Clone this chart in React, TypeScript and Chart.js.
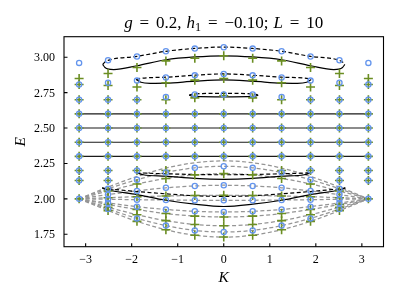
import React, { useEffect, useRef } from 'react';
import { Chart, registerables } from 'chart.js';

Chart.register(...registerables);

// K columns (2πn/L, L = 10)
const kColumns = [-3.1416, -2.5133, -1.885, -1.2566, -0.6283, 0, 0.6283, 1.2566, 1.885, 2.5133, 3.1416];

// Blue circles, listed by |K| index (0 → K = 0, 5 → K = ±π)
const blueByAbsK = [
  [3.07, 2.882, 2.737, 2.6, 2.5, 2.4, 2.3, 2.23, 2.096, 1.99, 1.907, 1.766],
  [3.061, 2.872, 2.737, 2.6, 2.5, 2.4, 2.3, 2.219, 2.091, 1.99, 1.912, 1.777],
  [3.042, 2.857, 2.72, 2.6, 2.5, 2.4, 2.3, 2.186, 2.078, 1.992, 1.925, 1.811],
  [3.005, 2.835, 2.7, 2.6, 2.5, 2.4, 2.3, 2.2, 2.135, 2.056, 1.994, 1.945, 1.862],
  [2.979, 2.82, 2.7, 2.6, 2.5, 2.4, 2.3, 2.2, 2.13, 2.071, 2.03, 1.997, 1.971, 1.928],
  [2.96, 2.807, 2.7, 2.6, 2.5, 2.4, 2.3, 2.2, 2.13, 2.0],
];

// Green pluses, listed by |K| index
const greenByAbsK = [
  [3.01, 2.85, 2.727, 2.6, 2.5, 2.4, 2.3, 2.178, 2.025, 1.872, 1.81, 1.73],
  [2.993, 2.838, 2.713, 2.6, 2.5, 2.4, 2.3, 2.169, 2.024, 1.878, 1.819, 1.743],
  [2.974, 2.82, 2.7, 2.6, 2.5, 2.4, 2.3, 2.2, 2.144, 2.02, 1.896, 1.846, 1.782],
  [2.927, 2.79, 2.7, 2.6, 2.5, 2.4, 2.3, 2.2, 2.105, 2.015, 1.925, 1.888, 1.841],
  [2.885, 2.8, 2.7, 2.6, 2.5, 2.4, 2.3, 2.2, 2.13, 2.055, 2.008, 1.96, 1.941, 1.917],
  [2.85, 2.807, 2.7, 2.6, 2.5, 2.4, 2.3, 2.2, 2.13, 2.0],
];

// Gray dashed continuum curves, values at kColumns
const grayCurves = [
  [2.0, 2.083, 2.158, 2.217, 2.255, 2.268, 2.255, 2.217, 2.158, 2.083, 2.0],
  [2.0, 2.071, 2.135, 2.186, 2.219, 2.23, 2.219, 2.186, 2.135, 2.071, 2.0],
  [2.0, 2.055, 2.105, 2.144, 2.169, 2.178, 2.169, 2.144, 2.105, 2.055, 2.0],
  [2.0, 2.03, 2.056, 2.078, 2.091, 2.096, 2.091, 2.078, 2.056, 2.03, 2.0],
  [2.0, 2.008, 2.015, 2.02, 2.024, 2.025, 2.024, 2.02, 2.015, 2.008, 2.0],
  [2.0, 1.997, 1.994, 1.992, 1.99, 1.99, 1.99, 1.992, 1.994, 1.997, 2.0],
  [2.0, 1.971, 1.945, 1.925, 1.912, 1.907, 1.912, 1.925, 1.945, 1.971, 2.0],
  [2.0, 1.96, 1.925, 1.896, 1.878, 1.872, 1.878, 1.896, 1.925, 1.96, 2.0],
  [2.0, 1.941, 1.888, 1.846, 1.819, 1.81, 1.819, 1.846, 1.888, 1.941, 2.0],
  [2.0, 1.928, 1.862, 1.811, 1.777, 1.766, 1.777, 1.811, 1.862, 1.928, 2.0],
  [2.0, 1.917, 1.841, 1.782, 1.743, 1.73, 1.743, 1.782, 1.841, 1.917, 2.0],
];

// Flat solid levels
const flatLevels = [2.6, 2.5, 2.4, 2.3];
const flatK = [-3.1416, 3.1416];

// Black bound-state branches (dashed = upper, solid = lower)
const aUpperK = [-2.63, -2.58, -2.5133, -1.885, -1.2566, -0.6283, 0, 0.6283, 1.2566, 1.885, 2.5133, 2.58, 2.63];
const aUpperE = [2.949, 2.966, 2.978, 3.006, 3.042, 3.062, 3.072, 3.062, 3.042, 3.006, 2.978, 2.966, 2.949];
const aLowerK = [-2.63, -2.58, -2.5, -2.39, -1.885, -1.2566, -0.6283, 0, 0.6283, 1.2566, 1.885, 2.39, 2.5, 2.58, 2.63];
const aLowerE = [2.949, 2.928, 2.916, 2.913, 2.94, 2.982, 3.002, 3.01, 3.002, 2.982, 2.94, 2.913, 2.916, 2.928, 2.949];

const bUpperK = [-1.9, -1.84, -1.2566, -0.6283, 0, 0.6283, 1.2566, 1.84, 1.9];
const bUpperE = [2.842, 2.849, 2.859, 2.873, 2.882, 2.873, 2.859, 2.849, 2.842];
const bLowerK = [-1.9, -1.8, -1.6, -1.2566, -0.6283, 0, 0.6283, 1.2566, 1.6, 1.8, 1.9];
const bLowerE = [2.842, 2.823, 2.816, 2.817, 2.831, 2.84, 2.831, 2.817, 2.816, 2.823, 2.842];

const cUpperK = [-0.75, -0.7, -0.6283, 0, 0.6283, 0.7, 0.75];
const cUpperE = [2.732, 2.738, 2.741, 2.745, 2.741, 2.738, 2.732];
const cLowerK = [-0.75, -0.7, -0.6283, 0, 0.6283, 0.7, 0.75];
const cLowerE = [2.732, 2.726, 2.723, 2.72, 2.723, 2.726, 2.732];

const dUpperK = [-1.9, -1.8, -1.2566, -0.6283, 0, 0.6283, 1.2566, 1.8, 1.9];
const dUpperE = [2.185, 2.183, 2.177, 2.172, 2.17, 2.172, 2.177, 2.183, 2.185];
const dLowerK = [-1.9, -1.75, -1.2566, -0.6283, 0, 0.6283, 1.2566, 1.75, 1.9];
const dLowerE = [2.185, 2.17, 2.16, 2.144, 2.138, 2.144, 2.16, 2.17, 2.185];

const eUpperK = [-2.64, -2.5133, -1.885, -1.2566, -0.6283, 0, 0.6283, 1.2566, 1.885, 2.5133, 2.64];
const eUpperE = [2.077, 2.071, 2.052, 2.035, 2.022, 2.017, 2.022, 2.035, 2.052, 2.071, 2.077];
const eLowerK = [-2.64, -2.55, -1.885, -1.2566, -0.6283, 0, 0.6283, 1.2566, 1.885, 2.55, 2.64];
const eLowerE = [2.077, 2.066, 2.03, 1.99, 1.962, 1.946, 1.962, 1.99, 2.03, 2.066, 2.077];

// Axes
const xTicks = [-3, -2, -1, 0, 1, 2, 3];
const yTicks = [1.75, 2.0, 2.25, 2.5, 2.75, 3.0];
const xRange = [-3.47, 3.47];
const yRange = [1.662, 3.145];

const SERIF = '"Liberation Serif", "DejaVu Serif", serif';

const zip = (ks: number[], es: number[]) => ks.map((k, i) => ({ x: k, y: es[i] }));

function markerPoints(byAbsK: number[][]) {
  const pts: { x: number; y: number }[] = [];
  kColumns.forEach((k, c) => {
    const j = Math.abs(c - 5);
    byAbsK[j].forEach((e) => pts.push({ x: k, y: e }));
  });
  return pts;
}

const fmtX = (v: number) => (v < 0 ? '\u2212' + Math.abs(v) : String(v));

const decorPlugin = {
  id: 'decor',
  afterDatasetsDraw(chart: any) {
    const { ctx, chartArea: a, scales } = chart;
    const xs = scales.x;
    const ys = scales.y;
    ctx.save();
    ctx.strokeStyle = '#000';
    ctx.lineWidth = 1.1;
    ctx.strokeRect(a.left, a.top, a.right - a.left, a.bottom - a.top);
    ctx.beginPath();
    xTicks.forEach((v) => {
      const px = xs.getPixelForValue(v);
      ctx.moveTo(px, a.bottom);
      ctx.lineTo(px, a.bottom - 3.5);
    });
    yTicks.forEach((v) => {
      const py = ys.getPixelForValue(v);
      ctx.moveTo(a.left, py);
      ctx.lineTo(a.left + 3.5, py);
    });
    ctx.stroke();

    ctx.fillStyle = '#000';
    ctx.font = `12px ${SERIF}`;
    ctx.textAlign = 'center';
    ctx.textBaseline = 'alphabetic';
    xTicks.forEach((v) => {
      ctx.fillText(fmtX(v), xs.getPixelForValue(v), a.bottom + 16.5);
    });
    ctx.textAlign = 'right';
    yTicks.forEach((v) => {
      ctx.fillText(v.toFixed(2), a.left - 9, ys.getPixelForValue(v) + 4);
    });

    // axis labels
    ctx.font = `italic 15.5px ${SERIF}`;
    ctx.textAlign = 'center';
    ctx.fillText('K', (a.left + a.right) / 2, a.bottom + 35);
    ctx.save();
    ctx.translate(25, (a.top + a.bottom) / 2);
    ctx.rotate(-Math.PI / 2);
    ctx.fillText('E', 0, 0);
    ctx.restore();

    // title with math styling
    const size = 17;
    const segs: { t?: string; it?: boolean; sub?: boolean; gap?: number }[] = [
      { t: 'g', it: true }, { gap: 0.4 }, { t: '=' }, { gap: 0.4 }, { t: '0.2,' }, { gap: 0.3 },
      { t: 'h', it: true }, { t: '1', sub: true }, { gap: 0.4 }, { t: '=' }, { gap: 0.4 }, { t: '\u22120.10;' }, { gap: 0.3 },
      { t: 'L', it: true }, { gap: 0.4 }, { t: '=' }, { gap: 0.4 }, { t: '10' },
    ];
    const fontFor = (s: any) => `${s.it ? 'italic ' : ''}${s.sub ? size * 0.72 : size}px ${SERIF}`;
    let total = 0;
    segs.forEach((s) => {
      if (s.gap) total += s.gap * size;
      else { ctx.font = fontFor(s); total += ctx.measureText(s.t).width; }
    });
    let x = (a.left + a.right) / 2 - total / 2;
    const base = 28;
    ctx.textAlign = 'left';
    segs.forEach((s) => {
      if (s.gap) { x += s.gap * size; return; }
      ctx.font = fontFor(s);
      ctx.fillText(s.t, x, s.sub ? base + 3 : base);
      x += ctx.measureText(s.t).width;
    });
    ctx.restore();
  },
};

export default function App() {
  const ref = useRef<HTMLCanvasElement | null>(null);
  useEffect(() => {
    if (!ref.current) return;
    const dashed = [4, 2.5];
    const lineDs = (pts: any[], color: string, dash: number[], width: number, order: number) => ({
      type: 'line' as const,
      data: pts,
      showLine: true,
      borderColor: color,
      borderWidth: width,
      borderDash: dash,
      pointRadius: 0,
      fill: false,
      cubicInterpolationMode: 'monotone' as const,
      order,
    });
    const datasets: any[] = [
      {
        type: 'scatter',
        data: markerPoints(blueByAbsK),
        pointStyle: 'circle',
        pointRadius: 2.6,
        borderWidth: 1.3,
        borderColor: '#6495ED',
        backgroundColor: 'rgba(0,0,0,0)',
        order: 0,
      },
      {
        type: 'scatter',
        data: markerPoints(greenByAbsK),
        pointStyle: 'cross',
        pointRadius: 4.5,
        borderWidth: 1.6,
        borderColor: '#6B8E23',
        backgroundColor: '#6B8E23',
        order: 1,
      },
      ...flatLevels.map((e) => lineDs(flatK.map((k) => ({ x: k, y: e })), '#1a1a1a', [], 1.1, 2)),
      lineDs(zip(aUpperK, aUpperE), '#000', dashed, 1.2, 2),
      lineDs(zip(aLowerK, aLowerE), '#000', [], 1.2, 2),
      lineDs(zip(bUpperK, bUpperE), '#000', dashed, 1.2, 2),
      lineDs(zip(bLowerK, bLowerE), '#000', [], 1.2, 2),
      lineDs(zip(cUpperK, cUpperE), '#000', dashed, 1.2, 2),
      lineDs(zip(cLowerK, cLowerE), '#000', [], 1.2, 2),
      lineDs(zip(dUpperK, dUpperE), '#000', dashed, 1.2, 2),
      lineDs(zip(dLowerK, dLowerE), '#000', [], 1.2, 2),
      lineDs(zip(eUpperK, eUpperE), '#000', dashed, 1.2, 2),
      lineDs(zip(eLowerK, eLowerE), '#000', [], 1.2, 2),
      ...grayCurves.map((es) => lineDs(zip(kColumns, es), '#959595', dashed, 1.25, 3)),
    ];
    const chart = new Chart(ref.current, {
      type: 'scatter',
      data: { datasets },
      options: {
        responsive: false,
        animation: false,
        devicePixelRatio: 1,
        layout: { padding: { left: 64, top: 36.7, right: 15.5, bottom: 53.3 } },
        scales: {
          x: { type: 'linear', display: false, min: xRange[0], max: xRange[1] },
          y: { type: 'linear', display: false, min: yRange[0], max: yRange[1] },
        },
        plugins: { legend: { display: false }, tooltip: { enabled: false } },
      },
      plugins: [decorPlugin],
    });
    return () => chart.destroy();
  }, []);
  return (
    <div style={{ position: 'fixed', left: 0, top: 0, width: 399, height: 300, background: '#fff' }}>
      <canvas ref={ref} width={399} height={300} style={{ display: 'block' }} />
    </div>
  );
}
